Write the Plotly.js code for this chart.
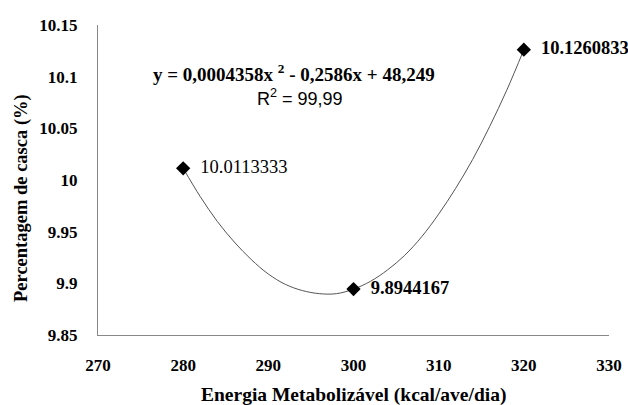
<!DOCTYPE html>
<html>
<head>
<meta charset="utf-8">
<script src="https://cdn.plot.ly/plotly-3.0.1.min.js"></script>
<style>html,body{margin:0;padding:0;background:#fff;}#chart{width:628px;height:405px;}</style>
</head>
<body>
<div id="chart"></div>
<script>
// Observed means
var energia = [280, 300, 320];
var casca = [10.0113333, 9.8944167, 10.1260833];
var pointLabels = ['\u00a0\u00a010.0113333', '\u00a0\u00a0<b>9.8944167</b>', '\u00a0\u00a0<b>10.1260833</b>'];

// Trend curve
var curveX = [280, 282, 284, 286, 288, 290, 292, 294, 296, 298, 300, 302, 304, 306, 308, 310, 312, 314, 316, 318, 320];
var curveY = [10.0113, 9.984, 9.960, 9.940, 9.923, 9.909, 9.899, 9.893, 9.890, 9.890, 9.8944, 9.902, 9.913, 9.927, 9.945, 9.967, 9.992, 10.020, 10.052, 10.087, 10.1261];

var xTicks = [270, 280, 290, 300, 310, 320, 330];
var yTicks = [9.85, 9.9, 9.95, 10, 10.05, 10.1, 10.15];
var yTickText = ['9.85', '9.9', '9.95', '10', '10.05', '10.1', '10.15'];

var serif = 'Liberation Serif';

var traces = [
  {
    x: curveX, y: curveY, type: 'scatter', mode: 'lines',
    line: {color: '#555', width: 1, shape: 'spline'},
    hoverinfo: 'skip', showlegend: false
  },
  {
    x: energia, y: casca, type: 'scatter', mode: 'markers+text',
    marker: {symbol: 'diamond', size: 11, color: '#000'},
    text: pointLabels, textposition: 'middle right',
    textfont: {family: serif, size: 18.5, color: '#000'},
    showlegend: false, cliponaxis: false
  }
];

var layout = {
  width: 628, height: 405,
  margin: {l: 98, r: 19, t: 25, b: 70},
  paper_bgcolor: '#fff', plot_bgcolor: '#fff',
  showlegend: false,
  xaxis: {
    range: [270, 330], tickvals: xTicks, ticktext: xTicks.map(String),
    showline: true, linecolor: '#888', linewidth: 1, mirror: false,
    ticks: '', showgrid: false, zeroline: false,
    ticklabelstandoff: 15,
    tickfont: {family: serif, size: 17, color: '#000', weight: 'bold'}
  },
  yaxis: {
    range: [9.85, 10.15], tickvals: yTicks, ticktext: yTickText,
    showline: true, linecolor: '#888', linewidth: 1, mirror: false,
    ticks: '', showgrid: false, zeroline: false,
    ticklabelstandoff: 16,
    tickfont: {family: serif, size: 17, color: '#000', weight: 'bold'}
  },
  annotations: [
    {
      xref: 'paper', yref: 'paper', x: 0.5, y: (335 - 395) / 310,
      xanchor: 'center', yanchor: 'middle', showarrow: false,
      text: '<b>Energia Metabolizável (kcal/ave/dia)</b>',
      font: {family: serif, size: 19.5, color: '#000'}
    },
    {
      xref: 'paper', yref: 'paper', x: (21 - 98) / 511, y: (335 - 198) / 310,
      xanchor: 'center', yanchor: 'middle', showarrow: false, textangle: -90,
      text: '<b>Percentagem de casca (%)</b>',
      font: {family: serif, size: 18.5, color: '#000'}
    },
    {
      xref: 'x', yref: 'y', x: 293, y: 10.1036,
      xanchor: 'center', yanchor: 'middle', showarrow: false,
      text: '<b>y = 0,0004358x <sup>2</sup> - 0,2586x + 48,249</b>',
      font: {family: serif, size: 19, color: '#000'}
    },
    {
      xref: 'x', yref: 'y', x: 293.7, y: 10.0794,
      xanchor: 'center', yanchor: 'middle', showarrow: false,
      text: 'R<sup>2</sup> = 99,99',
      font: {family: 'Liberation Sans', size: 18, color: '#000'}
    }
  ]
};

Plotly.newPlot('chart', traces, layout, {staticPlot: true, displayModeBar: false});
</script>
</body>
</html>
